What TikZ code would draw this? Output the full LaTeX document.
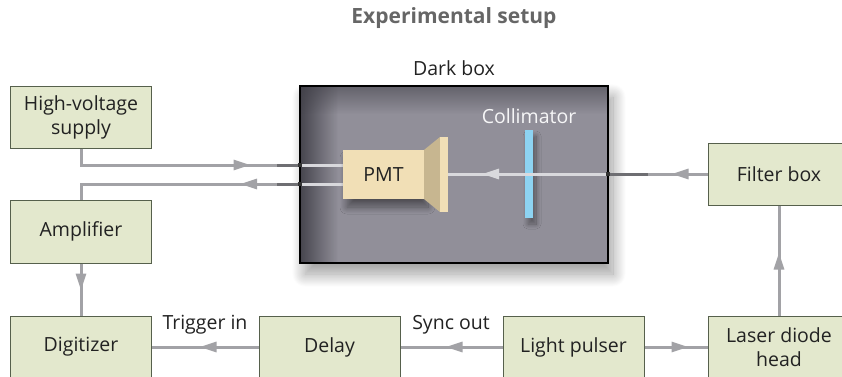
\documentclass[tikz,border=0pt]{standalone}
\usepackage{fontspec}
\setmainfont{Open Sans}
\usetikzlibrary{arrows.meta,decorations.markings,shadows.blur,positioning,fadings}
\definecolor{boxfill}{HTML}{E3E8CD}
\definecolor{boxline}{HTML}{56604C}
\definecolor{wire}{HTML}{A2A2A6}
\definecolor{wiredk}{HTML}{6E6E72}
\definecolor{wirelt}{HTML}{D9D9DD}
\definecolor{darkfill}{HTML}{918F99}
\definecolor{darkedge}{HTML}{3E3D45}
\definecolor{pmtfill}{HTML}{F1DFB6}
\definecolor{pmtside}{HTML}{C7B690}
\definecolor{collim}{HTML}{8DD3F2}
\definecolor{titlegray}{HTML}{666666}
\definecolor{txt}{HTML}{222222}
\tikzfading[name=fadeR, left color=transparent!0, right color=transparent!100]
\tikzfading[name=fadeD, top color=transparent!0, bottom color=transparent!100]
\tikzset{
  x=1pt, y=-1pt,
  blockbox/.style={draw=boxline, line width=1pt, fill=boxfill, inner sep=0pt,
    minimum width=141pt, align=center, text=txt,
    font=\fontsize{19.5}{24}\selectfont},
  conn/.style={draw=wire, line width=3pt},
  connlt/.style={draw=wirelt, line width=3pt},
  conndk/.style={draw=wiredk, line width=3pt},
  arrowpos/.style={postaction={decorate},
    decoration={markings, mark=at position #1 with {\arrow{Triangle[length=17pt,width=10pt]}}}},
  lbl/.style={text=txt, font=\fontsize{19.5}{23}\selectfont, inner sep=0pt},
}
\begin{document}
\begin{tikzpicture}
\useasboundingbox (0,0) rectangle (842,376);
\clip (0,0) rectangle (842,376);

% title
\node[text=titlegray, font=\bfseries\fontsize{21}{25}\selectfont, inner sep=0pt] (title) at (454,18) {Experimental setup};

% dark box
\path[fill=darkfill, blur shadow={shadow xshift=5pt, shadow yshift=-11pt, shadow blur radius=13pt, shadow blur steps=30, shadow opacity=40}] (300,86) rectangle (608,263);
\fill[darkedge, path fading=fadeR, fill opacity=0.9] (300,86) rectangle (338,263);
\fill[darkedge, path fading=fadeD, fill opacity=0.55] (300,86) rectangle (608,114);
\node[draw=black, line width=2pt, minimum width=308pt, minimum height=177pt, inner sep=0pt] (dark) at (454,174.5) {};
\node[lbl, above=9pt of dark.north] (darklbl) {Dark box};

% block nodes
\node[blockbox, minimum height=62pt] (hv) at (81,117) {High-voltage\\supply};
\node[blockbox, minimum height=63pt] (amp) at (81,231.5) {Amplifier};
\node[blockbox, minimum height=62pt] (dig) at (81,347) {Digitizer};
\node[blockbox, minimum height=62pt] (delay) at (329.5,347) {Delay};
\node[blockbox, minimum height=62pt] (lp) at (573.5,347) {Light pulser};
\node[blockbox, minimum height=62pt, minimum width=142pt] (laser) at (779,347) {Laser diode\\head};
\node[blockbox, minimum height=62pt, minimum width=142pt] (filter) at (779,174) {Filter box};

% collimator
\node[lbl, text=white!92!darkfill] (collbl) at (529,116) {Collimator};
\node[fill=collim, minimum width=8pt, minimum height=88pt, inner sep=0pt,
  blur shadow={shadow xshift=3pt, shadow yshift=-6pt, shadow blur radius=5pt, shadow blur steps=15, shadow opacity=40}] (coll) at (529,174) {};

% internal wires & beam (drawn before the PMT)
\coordinate (w1) at (300,165);
\coordinate (w2) at (300,184);
\coordinate (w1o) at (277,165);
\coordinate (w2o) at (277,184);
\coordinate (b1) at (608,174);
\coordinate (b1o) at (648,174);
\coordinate (pmtface) at (448,174);

\draw[connlt] (w1) -- (343,165);
\draw[connlt] (w2) -- (343,184);
\draw[connlt, arrowpos=126pt] (b1) -- (pmtface);

% PMT
\node[fill=pmtfill, minimum width=81pt, minimum height=49pt, inner sep=0pt,
  blur shadow={shadow xshift=4pt, shadow yshift=-8pt, shadow blur radius=7pt, shadow blur steps=20, shadow opacity=45},
  text=txt, font=\fontsize{19.5}{23}\selectfont] (pmt) at (383.5,174.5) {PMT};
\fill[pmtside] (pmt.north east) -- (440,137) -- (440,212) -- (pmt.south east) -- cycle;
\node[fill=pmtfill, minimum width=8pt, minimum height=75pt, inner sep=0pt] (pmtwin) at (444,174.5) {};

% connectors outside
\draw[conn, arrowpos=186pt] (hv.south) |- (w1);
\draw[conndk] (w1o) -- (w1);
\draw[conn, arrowpos=60pt] (w2) -| (amp.north);
\draw[conndk] (w2o) -- (w2);
\draw[conn, arrowpos=36pt] (filter.west) -- (b1);
\draw[conndk] (b1o) -- (b1);
\fill[black!80] (298,163) rectangle (302,167);
\fill[black!80] (298,182) rectangle (302,186);
\fill[black!80] (606,172) rectangle (610,176);

\draw[conn, arrowpos=27pt] (amp.south) -- (dig.north);
\draw[conn, arrowpos=59pt] (delay.west) -- (dig.east);
\draw[conn, arrowpos=57pt] (lp.west) -- (delay.east);
\draw[conn, arrowpos=44pt] (lp.east) -- (laser.west);
\draw[conn, arrowpos=63pt] (laser.north) -- (filter.south);

% labels
\node[lbl] (trig) at (205,325) {Trigger in};
\node[lbl] (sync) at (451,325) {Sync out};
\end{tikzpicture}
\end{document}
